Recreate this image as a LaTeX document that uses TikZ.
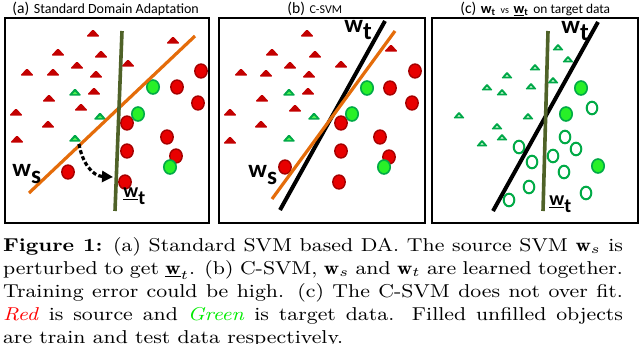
\RequirePackage{fix-cm}
\documentclass[tikz,border=0pt]{standalone}
\usepackage{graphicx}
\usepackage{fontspec}
\setsansfont{Carlito}
\usetikzlibrary{arrows.meta}
\definecolor{dred}{RGB}{195,0,0}
\definecolor{cred}{RGB}{232,0,0}
\definecolor{rimred}{RGB}{165,0,0}
\definecolor{tgreen}{RGB}{0,168,72}
\definecolor{lgreen}{RGB}{40,240,40}
\definecolor{rimgreen}{RGB}{0,170,70}
\definecolor{olivel}{RGB}{79,98,40}
\definecolor{sorange}{RGB}{228,108,10}
\definecolor{capgreen}{RGB}{0,235,0}
\newcommand{\capln}[1]{\scalebox{1.14}[1]{\hbox to 271.9pt{#1}}}
\tikzset{
  rtri/.pic={\fill[dred, rounded corners=0.6pt] (-6.8,3.6) -- (0,-3.8) -- (6.8,3.6) -- cycle;},
  gtri/.pic={\fill[tgreen, rounded corners=0.6pt] (-6.5,3.6) -- (0,-3.8) -- (6.5,3.6) -- cycle;
             \fill[lgreen!80!white] (-2.5,2) -- (0,-0.5) -- (2.5,2) -- cycle;},
  otri/.pic={\fill[tgreen, rounded corners=0.5pt] (-5.8,3.4) -- (0,-3.5) -- (5.8,3.4) -- cycle;
             \fill[white!85!lgreen] (-1.6,1.6) -- (0,-0.2) -- (1.6,1.6) -- cycle;},
  rc/.pic={\draw[rimred, fill=cred, line width=0.7pt] (0,0) ellipse [x radius=6.2, y radius=7];},
  gc/.pic={\draw[rimgreen, fill=lgreen, line width=0.8pt] (0,0) ellipse [x radius=6.2, y radius=7];},
  oc/.pic={\draw[rimgreen, line width=1pt] (0,0) ellipse [x radius=5.3, y radius=6.3];},
  frame/.style={line width=1pt},
  capline/.style={anchor=base west, inner sep=0pt, font=\fontsize{9.3}{11}\selectfont},
  lab/.style={anchor=base west, inner sep=0pt, font=\sffamily\bfseries\fontsize{12.5}{13}\selectfont},
  labs/.style={anchor=base west, inner sep=0pt, font=\sffamily\bfseries\fontsize{10}{11}\selectfont},
  ttl/.style={anchor=base west, inner sep=0pt, font=\sffamily},
}
\begin{document}
\begin{tikzpicture}[x=0.5pt,y=-0.5pt]
\useasboundingbox (0,0) rectangle (640,343);
% frames
\draw[frame] (5,18) rectangle (209,223);
\draw[frame] (219,18) rectangle (425,223);
\draw[frame] (432,18) rectangle (638,223);
% titles
\node[ttl] (ta) at (12,13) {{\fontsize{7.8}{8}\selectfont (a)} {\fontsize{7}{8}\selectfont Standard Domain Adaptation}};
\node[ttl] (tb) at (287,13) {{\fontsize{7.8}{8}\selectfont (b)} {\fontsize{6}{7}\selectfont C-SVM}};
\node[ttl] (tc) at (460,13) {{\fontsize{7.8}{8}\selectfont (c)} {\fontsize{7.2}{8}\selectfont\bfseries w\textsubscript{t}} {\fontsize{5}{6}\selectfont vs} {\fontsize{7.2}{8}\selectfont\bfseries \underline{w}\textsubscript{t}} {\fontsize{6.7}{7}\selectfont on target data}};
% panel a
\foreach \p in {(93,33),(58,52),(101,54),(77,65),(128,63),(27,72),(53,72),(96,74),(173,40),(94,91),(49,98),(81,107),(16,112),(48,124),(17,139)} \pic at \p {rtri};
\foreach \p in {(75,92),(100,116),(75,138)} \pic at \p {gtri};
\foreach \p in {(201,71),(177,87),(198,103),(127,123),(167,137),(127,151),(176,156),(68,172),(125,182)} \pic at \p {rc};
\foreach \p in {(153,87),(138,114),(170,167)} \pic at \p {gc};
\coordinate (a1) at (29,193); \coordinate (a2) at (195,36);
\coordinate (a3) at (122,31); \coordinate (a4) at (115,211);
\draw[sorange, line width=1.6pt] (a1) -- (a2);
\draw[olivel, line width=1.8pt] (a3) -- (a4);
\coordinate (d1) at (79,144); \coordinate (d2) at (113,177);
\draw[line width=1.6pt, dash pattern=on 2pt off 1.2pt, -{Triangle[length=5.5pt,width=5.5pt]}] (d1) .. controls (82,162) and (92,176) .. (d2);
\node[lab] (wsa) at (12,176) {w\raisebox{-3.5pt}{s}};
\node[labs] (wta) at (123,197) {\underline{w}\raisebox{-3.5pt}{t}};
% panel b
\foreach \p in {(307,33),(272,52),(315,54),(290,65),(341,64),(241,72),(266,73),(309,74),(391,48),(308,91),(262,98),(295,108),(230,112),(261,124),(230,140)} \pic at \p {rtri};
\foreach \p in {(289,92),(314,116),(289,138)} \pic at \p {gtri};
\foreach \p in {(415,71),(390,88),(412,103),(341,123),(380,137),(341,151),(389,157),(285,167),(339,182)} \pic at \p {rc};
\foreach \p in {(367,88),(352,114),(384,167)} \pic at \p {gc};
\coordinate (b1) at (280,210); \coordinate (b2) at (385,21);
\coordinate (b3) at (272,199); \coordinate (b4) at (395,31);
\draw[black, line width=2pt] (b1) -- (b2);
\draw[sorange, line width=1.6pt] (b3) -- (b4);
\node[lab] (wtb) at (344,32) {w\raisebox{-3.5pt}{t}};
\node[lab] (wsb) at (248,177) {w\raisebox{-3.5pt}{s}};
% panel c
\foreach \p in {(558,47),(568,59),(535,67),(507,75),(553,80),(487,87),(502,92),(531,86),(459,115),(528,116),(497,126),(502,137),(482,143)} \pic at \p {otri};
\foreach \p in {(581,88),(566,114),(598,166)} \pic at \p {gc};
\foreach \p in {(592,108),(565,137),(519,147),(576,149),(532,162),(553,156),(564,172),(529,187),(586,193),(509,200)} \pic at \p {oc};
\coordinate (c1) at (493,211); \coordinate (c2) at (598,22);
\coordinate (c3) at (548,31); \coordinate (c4) at (543,211);
\draw[black, line width=2pt] (c1) -- (c2);
\draw[olivel, line width=1.8pt] (c3) -- (c4);
\node[lab] (wtc) at (561,33) {w\raisebox{-3.5pt}{t}};
\node[labs] (wtc2) at (549,205) {\underline{w}\raisebox{-3.5pt}{t}};
% caption
\node[capline] (l1) at (2.7,251) {\capln{\textbf{Figure 1:} (a) Standard SVM based DA. The source SVM $\mathbf{w}_s$ is}};
\node[capline] (l2) at (2.7,274) {\capln{perturbed to get $\underline{\mathbf{w}}_t$. (b) C-SVM, $\mathbf{w}_s$ and $\mathbf{w}_t$ are learned together.}};
\node[capline] (l3) at (2.7,297) {\capln{Training error could be high. (c) The C-SVM does not over fit.}};
\node[capline] (l4) at (2.7,320) {\capln{\textcolor{red}{\textit{Red}} is source and \textcolor{capgreen}{\textit{Green}} is target data. Filled unfilled objects}};
\node[capline] (l5) at (2.7,343) {\scalebox{1.14}[1]{are train and test data respectively.}};
\end{tikzpicture}
\end{document}
